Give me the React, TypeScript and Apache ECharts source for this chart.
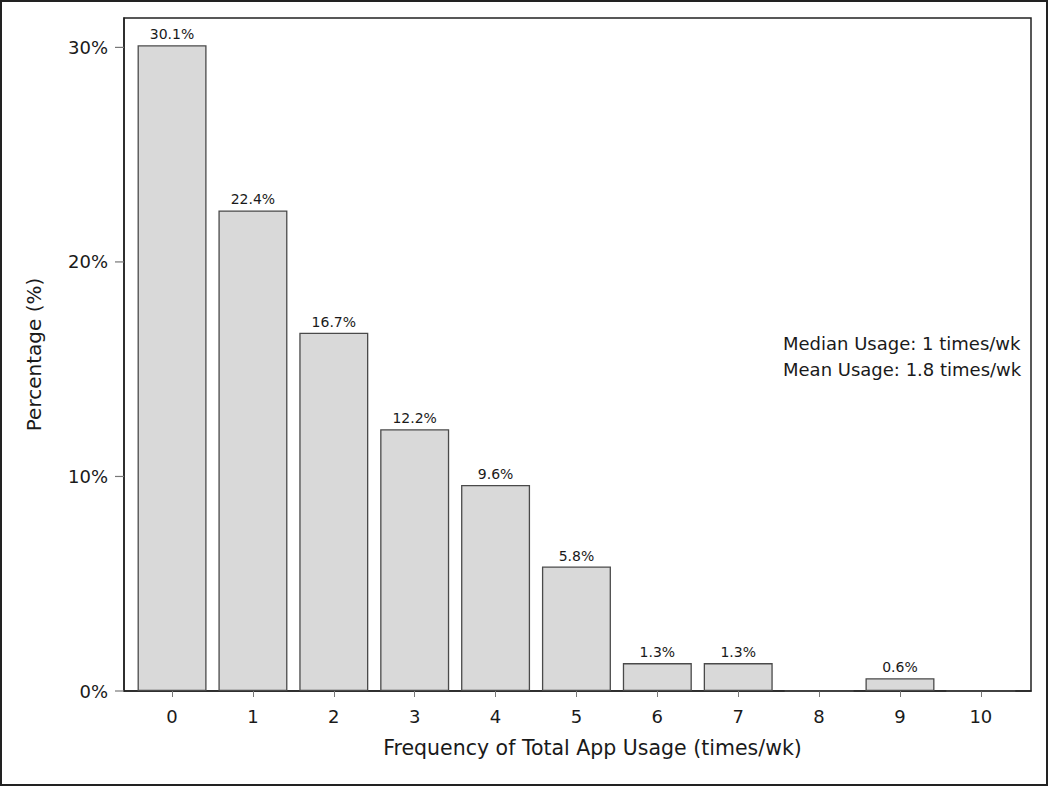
import React, { useEffect, useRef } from "react";
import * as echarts from "echarts";

const categories = [0, 1, 2, 3, 4, 5, 6, 7, 8, 9, 10];
const percentages = [30.1, 22.4, 16.7, 12.2, 9.6, 5.8, 1.3, 1.3, 0, 0.6, 0];
const yTicks = [0, 10, 20, 30];
const annotations = ["Median Usage: 1 times/wk", "Mean Usage: 1.8 times/wk"];

const X_MIN = -0.594;
const X_MAX = 10.62;
const Y_MAX = 31.37;

const FONT = "'DejaVu Sans', Verdana, sans-serif";
const TXT = "#1a1a1a";

export default function App() {
  const ref = useRef<HTMLDivElement>(null);
  useEffect(() => {
    document.body.style.margin = "0";
    const chart = echarts.init(ref.current!, null, { renderer: "svg" });
    chart.setOption({
      animation: false,
      backgroundColor: "#ffffff",
      grid: {
        left: 124,
        right: 19,
        top: 18,
        bottom: 96,
        show: true,
        borderColor: "#222",
        borderWidth: 1.5,
      },
      xAxis: {
        type: "value",
        min: X_MIN,
        max: X_MAX,
        name: "Frequency of Total App Usage (times/wk)",
        nameLocation: "middle",
        nameGap: 46,
        nameTextStyle: { fontFamily: FONT, fontSize: 20.5, color: TXT, padding: [0, 0, 0, 30] },
        axisLine: { show: true, onZero: false, lineStyle: { color: "#222", width: 1.5 } },
        axisTick: { show: true, length: 6, customValues: categories, lineStyle: { color: "#777" } },
        axisLabel: {
          customValues: categories,
          margin: 16,
          fontFamily: FONT,
          fontSize: 18,
          color: TXT,
        },
        splitLine: { show: false },
      },
      yAxis: {
        type: "value",
        min: 0,
        max: Y_MAX,
        name: "Percentage (%)",
        nameLocation: "middle",
        nameGap: 80,
        nameRotate: 90,
        nameTextStyle: { fontFamily: FONT, fontSize: 20, color: TXT },
        axisLine: { show: true, onZero: false, lineStyle: { color: "#222", width: 1.5 } },
        axisTick: { show: false },
        axisLabel: {
          customValues: yTicks,
          formatter: (v: number) => v + "%",
          margin: 16,
          fontFamily: FONT,
          fontSize: 18,
          color: TXT,
        },
        splitLine: { show: false },
      },
      series: [
        {
          type: "bar",
          barWidth: 69,
          data: categories.map((c, i) => [c, percentages[i]]),
          itemStyle: { color: "#d9d9d9", borderColor: "#4a4a4a", borderWidth: 1.3 },
          label: {
            show: true,
            position: "top",
            distance: 4,
            fontFamily: FONT,
            fontSize: 14,
            color: TXT,
            formatter: (p: any) => (p.value[1] > 0 ? p.value[1].toFixed(1) + "%" : ""),
          },
        },
        {
          type: "custom",
          silent: true,
          clip: false,
          data: yTicks.map((v) => [X_MIN, v]),
          renderItem: (_params: any, api: any) => {
            const p = api.coord([api.value(0), api.value(1)]);
            return {
              type: "line",
              shape: { x1: p[0] - 9, y1: p[1], x2: p[0], y2: p[1] },
              style: { stroke: "#777", lineWidth: 1.2 },
            };
          },
        },
      ],
      graphic: [
        {
          type: "rect",
          shape: { x: 1, y: 1, width: 1046, height: 784 },
          style: { fill: "none", stroke: "#222", lineWidth: 2 },
          silent: true,
        },
        ...annotations.map((t, i) => ({
          type: "text",
          x: 783,
          y: 343 + i * 26,
          style: {
            text: t,
            fontFamily: FONT,
            fontSize: 18,
            fill: TXT,
            textVerticalAlign: "middle",
            textAlign: "left",
          },
        })),
      ],
    });
    return () => chart.dispose();
  }, []);
  return <div ref={ref} style={{ width: 1050, height: 787 }} />;
}
